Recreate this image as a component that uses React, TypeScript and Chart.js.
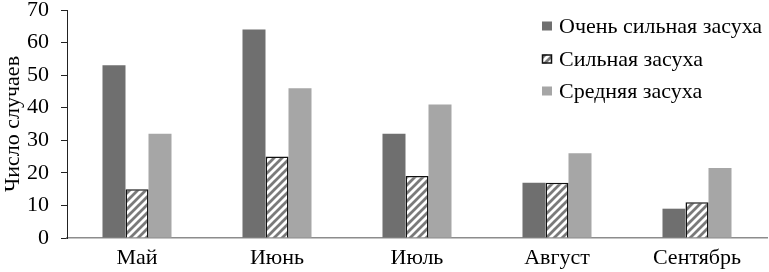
import React, { useEffect, useRef } from "react";
import { Chart, registerables } from "chart.js";

Chart.register(...registerables);

const categories = ["Май", "Июнь", "Июль", "Август", "Сентябрь"];
const seriesNames = ["Очень сильная засуха", "Сильная засуха", "Средняя засуха"];
const veryStrong = [53, 64, 32, 17, 9];
const strong = [15, 25, 19, 17, 11];
const moderate = [32, 46, 41, 26, 21.5];
const yTicks = [0, 10, 20, 30, 40, 50, 60, 70];
const yTitle = "Число случаев";

const FONT = '"Liberation Serif", "Times New Roman", Times, serif';
const DARK = "#6f6f6f";
const LIGHT = "#a6a6a6";

function makeHatch(): CanvasPattern | string {
  const c = document.createElement("canvas");
  c.width = 8;
  c.height = 8;
  const g = c.getContext("2d");
  if (!g) return "#ffffff";
  g.fillStyle = "#ffffff";
  g.fillRect(0, 0, 8, 8);
  g.strokeStyle = "#7a7a7a";
  g.lineWidth = 2.8;
  g.beginPath();
  g.moveTo(-2, 10);
  g.lineTo(10, -2);
  g.moveTo(-6, 6);
  g.lineTo(6, -6);
  g.moveTo(2, 14);
  g.lineTo(14, 2);
  g.stroke();
  const p = g.createPattern(c, "repeat");
  return p || "#ffffff";
}

const legendPlugin = {
  id: "customLegend",
  afterDraw(chart: any) {
    const ctx = chart.ctx;
    const ds = chart.data.datasets;
    const x0 = 542;
    const rows = [26, 59, 91];
    ctx.save();
    ctx.font = `22px ${FONT}`;
    ctx.textBaseline = "middle";
    ctx.textAlign = "left";
    ds.forEach((d: any, i: number) => {
      const cy = rows[i];
      ctx.fillStyle = d.backgroundColor;
      ctx.fillRect(x0, cy - 4.5, 10, 9);
      if (d.borderWidth) {
        ctx.strokeStyle = d.borderColor;
        ctx.lineWidth = 1.5;
        ctx.strokeRect(x0 + 0.5, cy - 4, 9, 8);
      }
      ctx.fillStyle = "#000000";
      ctx.fillText(d.label, 559, cy + 1);
    });
    ctx.restore();
  },
};

export default function App() {
  const ref = useRef<HTMLCanvasElement | null>(null);
  useEffect(() => {
    if (!ref.current) return;
    let chart: Chart | null = null;
    let cancelled = false;
    const build = () => {
      if (cancelled || !ref.current) return;
      const hatch = makeHatch();
      chart = new Chart(ref.current, {
        type: "bar",
        data: {
          labels: categories,
          datasets: [
            { label: seriesNames[0], data: veryStrong, backgroundColor: DARK, borderWidth: 0 },
            { label: seriesNames[1], data: strong, backgroundColor: hatch as any, borderColor: "#111111", borderWidth: 1.5 },
            { label: seriesNames[2], data: moderate, backgroundColor: LIGHT, borderWidth: 0 },
          ],
        },
        options: {
          responsive: false,
          animation: false,
          layout: { padding: { top: 10, right: 2, bottom: 0, left: 0 } },
          datasets: { bar: { barPercentage: 1, categoryPercentage: 0.493 } },
          plugins: { legend: { display: false }, tooltip: { enabled: false } },
          scales: {
            x: {
              grid: { display: true, drawOnChartArea: false, drawTicks: false },
              border: { display: true, color: "#8c8c8c", width: 1.5 },
              ticks: { color: "#000", font: { family: FONT, size: 22 }, padding: 7, maxRotation: 0 },
              afterFit: (s: any) => { s.height = 34; s.paddingLeft = 0; s.paddingRight = 0; },
            },
            y: {
              min: 0,
              max: 70,
              afterBuildTicks: (s: any) => { s.ticks = yTicks.map((v) => ({ value: v })); },
              grid: { display: true, drawOnChartArea: false, drawTicks: true, tickLength: 6, color: "#222" },
              border: { display: true, color: "#222", width: 1 },
              ticks: { color: "#000", font: { family: FONT, size: 22 }, padding: 12 },
              title: { display: true, text: yTitle, color: "#000", font: { family: FONT, size: 22 }, padding: 0 },
              afterFit: (s: any) => { s.width = 67; s.paddingTop = 0; s.paddingBottom = 0; },
            },
          },
        },
        plugins: [legendPlugin],
      });
    };
    const fontsApi: any = (document as any).fonts;
    if (fontsApi && fontsApi.load) {
      Promise.all([
        fontsApi.load('22px "Liberation Serif"', "Число"),
        fontsApi.load('22px "Liberation Serif"', "0123456789"),
      ]).then(build, build);
    } else {
      build();
    }
    return () => {
      cancelled = true;
      if (chart) chart.destroy();
    };
  }, []);
  return (
    <div style={{ position: "fixed", left: 0, top: 0, width: 769, height: 272, background: "#fff" }}>
      <canvas ref={ref} width={769} height={272} style={{ width: 769, height: 272, display: "block" }} />
    </div>
  );
}
